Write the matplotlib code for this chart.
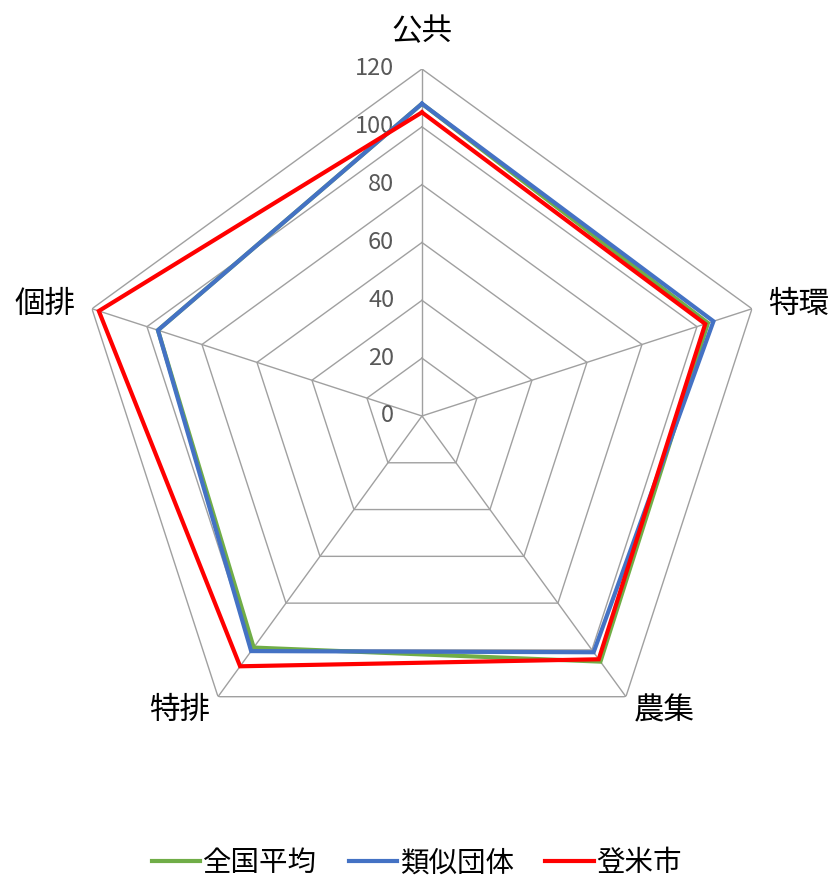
import numpy as np
import matplotlib
matplotlib.use("Agg")
import matplotlib.pyplot as plt

plt.rcParams['font.family'] = ['Noto Sans CJK JP', 'DejaVu Sans']

# データ
categories = ["公共", "特環", "農集", "特排", "個排"]
zenkoku = [108, 104, 105, 99, 96]     # 全国平均
ruiji = [108, 106, 101, 100.5, 96]    # 類似団体
tome = [105, 103, 104, 107, 117.5]    # 登米市
series_names = ["全国平均", "類似団体", "登米市"]
series_colors = ["#70ad47", "#4472c4", "#ff0000"]
ticks = [0, 20, 40, 60, 80, 100, 120]

n = len(categories)
theta = np.linspace(0, 2 * np.pi, n, endpoint=False)
theta_c = np.append(theta, theta[0])

fig = plt.figure(figsize=(8.34, 8.88), dpi=100)
ax = fig.add_axes([0.0899, 0.1408, 0.8321, 0.7815], projection="polar")
ax.set_theta_offset(np.pi / 2)
ax.set_theta_direction(-1)
ax.set_ylim(0, 120)
ax.grid(False)
ax.spines["polar"].set_visible(False)
ax.set_xticks([])
ax.set_yticks([])
ax.patch.set_visible(False)

# 五角形のグリッド
grid_col = "#a0a0a0"
for t in ticks[1:]:
    ax.plot(theta_c, [t] * (n + 1), color=grid_col, lw=1.0, zorder=1)
for th in theta:
    ax.plot([th, th], [0, 120], color=grid_col, lw=1.0, zorder=1)

# 目盛ラベル
for t in ticks:
    ax.annotate(str(t), xy=(0, t), xytext=(-20, 0), textcoords="offset points",
                ha="right", va="center", fontsize=17, color="#595959")

# 項目ラベル
label_off = [(0, 27), (12, 3), (6, -10), (-6, -10), (-12, 3)]
label_ha = ["center", "left", "left", "right", "right"]
for th, lab, off, ha in zip(theta, categories, label_off, label_ha):
    ax.annotate(lab, xy=(th, 120), xytext=off, textcoords="offset points",
                ha=ha, va="center", fontsize=22, color="#000000")

# データ系列
for vals, name, col in zip([zenkoku, ruiji, tome], series_names, series_colors):
    ax.plot(theta_c, vals + vals[:1], color=col, lw=3, label=name, zorder=3,
            solid_joinstyle="miter")

fig.legend(loc="lower center", bbox_to_anchor=(0.5, -0.018), ncol=3, frameon=False,
           fontsize=20.5, handlelength=1.7, handletextpad=0.1, columnspacing=1.1)

fig.savefig("out.png", dpi=100)
